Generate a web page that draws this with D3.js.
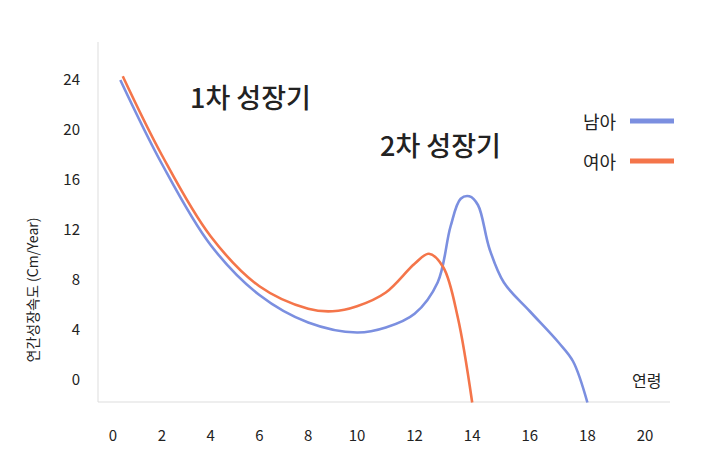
<!DOCTYPE html><html><head><meta charset="utf-8"><script src="https://cdn.jsdelivr.net/npm/d3@7"></script>
<style>body{margin:0;background:#fff}text{font-family:"Noto Sans CJK KR","Noto Sans",sans-serif}</style></head><body>
<script>
const xTicks=[0,2,4,6,8,10,12,14,16,18,20];
const yTicks=[0,4,8,12,16,20,24];
const boys=[[0.3,24],[2,17.3],[4,10.8],[6,6.8],[8,4.6],[10,3.8],[11,4.2],[12,5.3],[12.8,7.8],[13.25,12.3],[13.6,14.5],[13.9,14.7],[14.2,14],[14.6,10.5],[15.1,7.8],[16,5.5],[17,3],[17.5,1.5],[18,-1.8]];
const girls=[[0.4,24.3],[2,18],[4,11.5],[6,7.5],[8,5.7],[9,5.5],[10,5.9],[11,7],[12,9.3],[12.5,10.1],[13,9],[13.5,5],[14,-1.8]];
const svg=d3.select("body").append("svg").attr("width",705).attr("height",466);
const x=d3.scaleLinear().domain([0,10,20]).range([113,357,645]);
const y=d3.scaleLinear().domain([0,24]).range([380,80]);
svg.append("line").attr("x1",98).attr("x2",98).attr("y1",42).attr("y2",402).attr("stroke","#ddd");
svg.append("line").attr("x1",98).attr("x2",670).attr("y1",402).attr("y2",402).attr("stroke","#ddd");
svg.selectAll(".xt").data(xTicks).join("text").attr("x",d=>x(d)).attr("y",441).attr("text-anchor","middle").attr("font-size",15).attr("fill","#222").text(d=>d);
svg.selectAll(".yt").data(yTicks).join("text").attr("x",80).attr("y",d=>y(d)+5).attr("text-anchor","end").attr("font-size",15).attr("fill","#222").text(d=>d);
const line=d3.line().x(d=>x(d[0])).y(d=>y(d[1])).curve(d3.curveCatmullRom.alpha(0.5));
svg.append("path").attr("d",line(boys)).attr("fill","none").attr("stroke","#7b8fe0").attr("stroke-width",2.6);
svg.append("path").attr("d",line(girls)).attr("fill","none").attr("stroke","#f4754a").attr("stroke-width",2.6);
svg.append("text").attr("x",190).attr("y",108).attr("font-size",27).attr("font-weight",500).attr("fill","#222").text("1차 성장기");
svg.append("text").attr("x",380).attr("y",156).attr("font-size",27).attr("font-weight",500).attr("fill","#222").text("2차 성장기");
svg.append("text").attr("x",583).attr("y",129).attr("font-size",18).attr("fill","#222").text("남아");
svg.append("line").attr("x1",630).attr("x2",674).attr("y1",121).attr("y2",121).attr("stroke","#7b8fe0").attr("stroke-width",5);
svg.append("text").attr("x",583).attr("y",169).attr("font-size",18).attr("fill","#222").text("여아");
svg.append("line").attr("x1",630).attr("x2",674).attr("y1",161).attr("y2",161).attr("stroke","#f4754a").attr("stroke-width",5);
svg.append("text").attr("x",632).attr("y",387).attr("font-size",16).attr("fill","#222").text("연령");
svg.append("text").attr("transform","translate(38,290) rotate(-90)").attr("text-anchor","middle").attr("font-size",14).attr("fill","#222").text("연간성장속도 (Cm/Year)");
</script></body></html>
